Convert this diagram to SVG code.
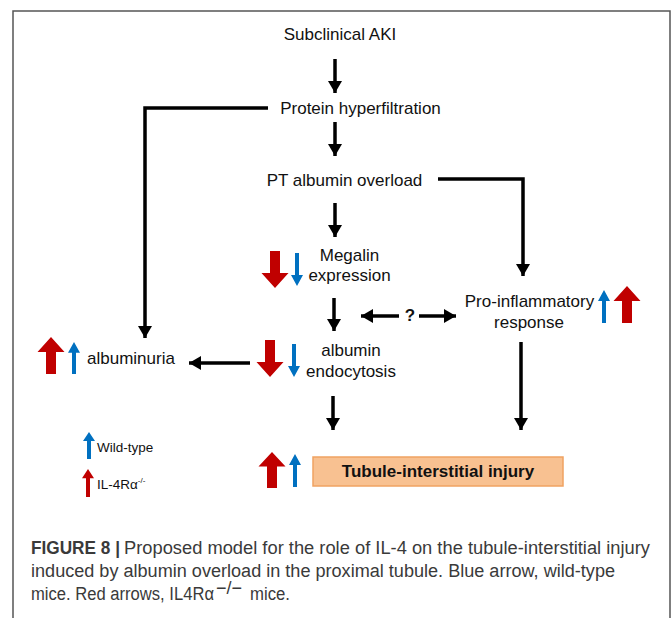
<svg xmlns="http://www.w3.org/2000/svg" xmlns:xlink="http://www.w3.org/1999/xlink" width="672" height="618" viewBox="0 0 672 618">
<style>
  .t { font-family: "Liberation Sans", Arial, sans-serif; font-size: 17px; fill: #111; }
  .c { text-anchor: middle; }
  .b { font-weight: bold; }
  .leg { font-family: "Liberation Sans", Arial, sans-serif; font-size: 13.5px; fill: #111; }
  .cap { font-family: "Liberation Sans", Arial, sans-serif; font-size: 18px; fill: #3a3a3a; }
  .con { fill: none; stroke: #000; stroke-width: 3.5; }
  .red { fill: #C00000; }
  .blue { fill: #0070C0; }
</style>
<defs>
  <marker id="ah" markerUnits="userSpaceOnUse" markerWidth="12" markerHeight="14" refX="12" refY="7" orient="auto" viewBox="0 0 12 14">
    <path d="M0,0 L12,7 L0,14 Z" fill="#000"/>
  </marker>
  <path id="fat" d="M0,0 L13.5,15 L5,15 L5,37 L-5,37 L-5,15 L-13.5,15 Z"/>
  <path id="thin" d="M0,0 L6,11 L2,11 L2,33 L-2,33 L-2,11 L-6,11 Z"/>
</defs>

<rect x="13" y="11" width="657" height="640" fill="#fff" stroke="#555" stroke-width="1.5"/>

<g id="connectors">
  <line class="con" x1="335" y1="59" x2="335" y2="93" marker-end="url(#ah)"/>
  <line class="con" x1="335" y1="122" x2="335" y2="156" marker-end="url(#ah)"/>
  <line class="con" x1="335" y1="203" x2="335" y2="237" marker-end="url(#ah)"/>
  <line class="con" x1="334" y1="298" x2="334" y2="331" marker-end="url(#ah)"/>
  <line class="con" x1="333" y1="396" x2="333" y2="430" marker-end="url(#ah)"/>
  <polyline class="con" points="268,108 145,108 145,338" marker-end="url(#ah)"/>
  <polyline class="con" points="438,179 523,179 523,276" marker-end="url(#ah)"/>
  <line class="con" x1="521" y1="342" x2="521" y2="430" marker-end="url(#ah)"/>
  <line class="con" x1="399" y1="316" x2="361" y2="316" marker-end="url(#ah)"/>
  <line class="con" x1="419" y1="316" x2="456" y2="316" marker-end="url(#ah)"/>
  <line class="con" x1="250" y1="363" x2="189" y2="363" marker-end="url(#ah)"/>
  <text class="t c b" x="410" y="321">?</text>
</g>

<g id="subclinical-aki">
  <text class="t c" x="340" y="40">Subclinical AKI</text>
</g>
<g id="protein-hyperfiltration">
  <text class="t c" x="360.5" y="114">Protein hyperfiltration</text>
</g>
<g id="pt-albumin-overload">
  <text class="t c" x="344.5" y="186">PT albumin overload</text>
</g>
<g id="megalin-expression">
  <use href="#fat" class="red" transform="translate(275,288) rotate(180)"/>
  <use href="#thin" class="blue" transform="translate(297,286) rotate(180)"/>
  <text class="t c" x="349.5" y="261">Megalin</text>
  <text class="t c" x="349.5" y="281">expression</text>
</g>
<g id="pro-inflammatory-response">
  <text class="t c" x="529.5" y="307">Pro-inflammatory</text>
  <text class="t c" x="529" y="328">response</text>
  <use href="#thin" class="blue" transform="translate(604,290)"/>
  <use href="#fat" class="red" transform="translate(627,286)"/>
</g>
<g id="albumin-endocytosis">
  <use href="#fat" class="red" transform="translate(270,377) rotate(180)"/>
  <use href="#thin" class="blue" transform="translate(294,377) rotate(180)"/>
  <text class="t c" x="351" y="356">albumin</text>
  <text class="t c" x="351" y="377">endocytosis</text>
</g>
<g id="albuminuria">
  <use href="#fat" class="red" transform="translate(51,337)"/>
  <use href="#thin" class="blue" transform="translate(74,342) scale(1,0.97)"/>
  <text class="t" x="87" y="364">albuminuria</text>
</g>
<g id="tubule-interstitial-injury">
  <use href="#fat" class="red" transform="translate(272,452) scale(1,0.97)"/>
  <use href="#thin" class="blue" transform="translate(295,454)"/>
  <rect x="313" y="457" width="250" height="29" fill="#F8C191" stroke="#F0A262" stroke-width="1.5"/>
  <text class="t c b" x="438" y="477">Tubule-interstitial injury</text>
</g>
<g id="legend">
  <use href="#thin" class="blue" transform="translate(89,432) scale(1,0.82)"/>
  <text class="leg" x="97" y="452">Wild-type</text>
  <use href="#thin" class="red" transform="translate(88,469) scale(1,0.85)"/>
  <text class="leg" x="97" y="489">IL-4Rα<tspan font-size="8" dy="-6">-/-</tspan></text>
</g>

<g id="caption">
  <text class="cap b" x="31" y="554" textLength="89" lengthAdjust="spacingAndGlyphs">FIGURE 8 |</text>
  <text class="cap" x="124" y="554" textLength="526" lengthAdjust="spacingAndGlyphs">Proposed model for the role of IL-4 on the tubule-interstitial injury</text>
  <text class="cap" x="31" y="577" textLength="584" lengthAdjust="spacingAndGlyphs">induced by albumin overload in the proximal tubule. Blue arrow, wild-type</text>
  <text class="cap" x="31" y="600" textLength="183" lengthAdjust="spacingAndGlyphs">mice. Red arrows, IL4Rα</text>
  <text class="cap" x="216" y="594" font-size="12" textLength="26" lengthAdjust="spacingAndGlyphs">−/−</text>
  <text class="cap" x="250" y="600" textLength="40" lengthAdjust="spacingAndGlyphs">mice.</text>
</g>
</svg>
